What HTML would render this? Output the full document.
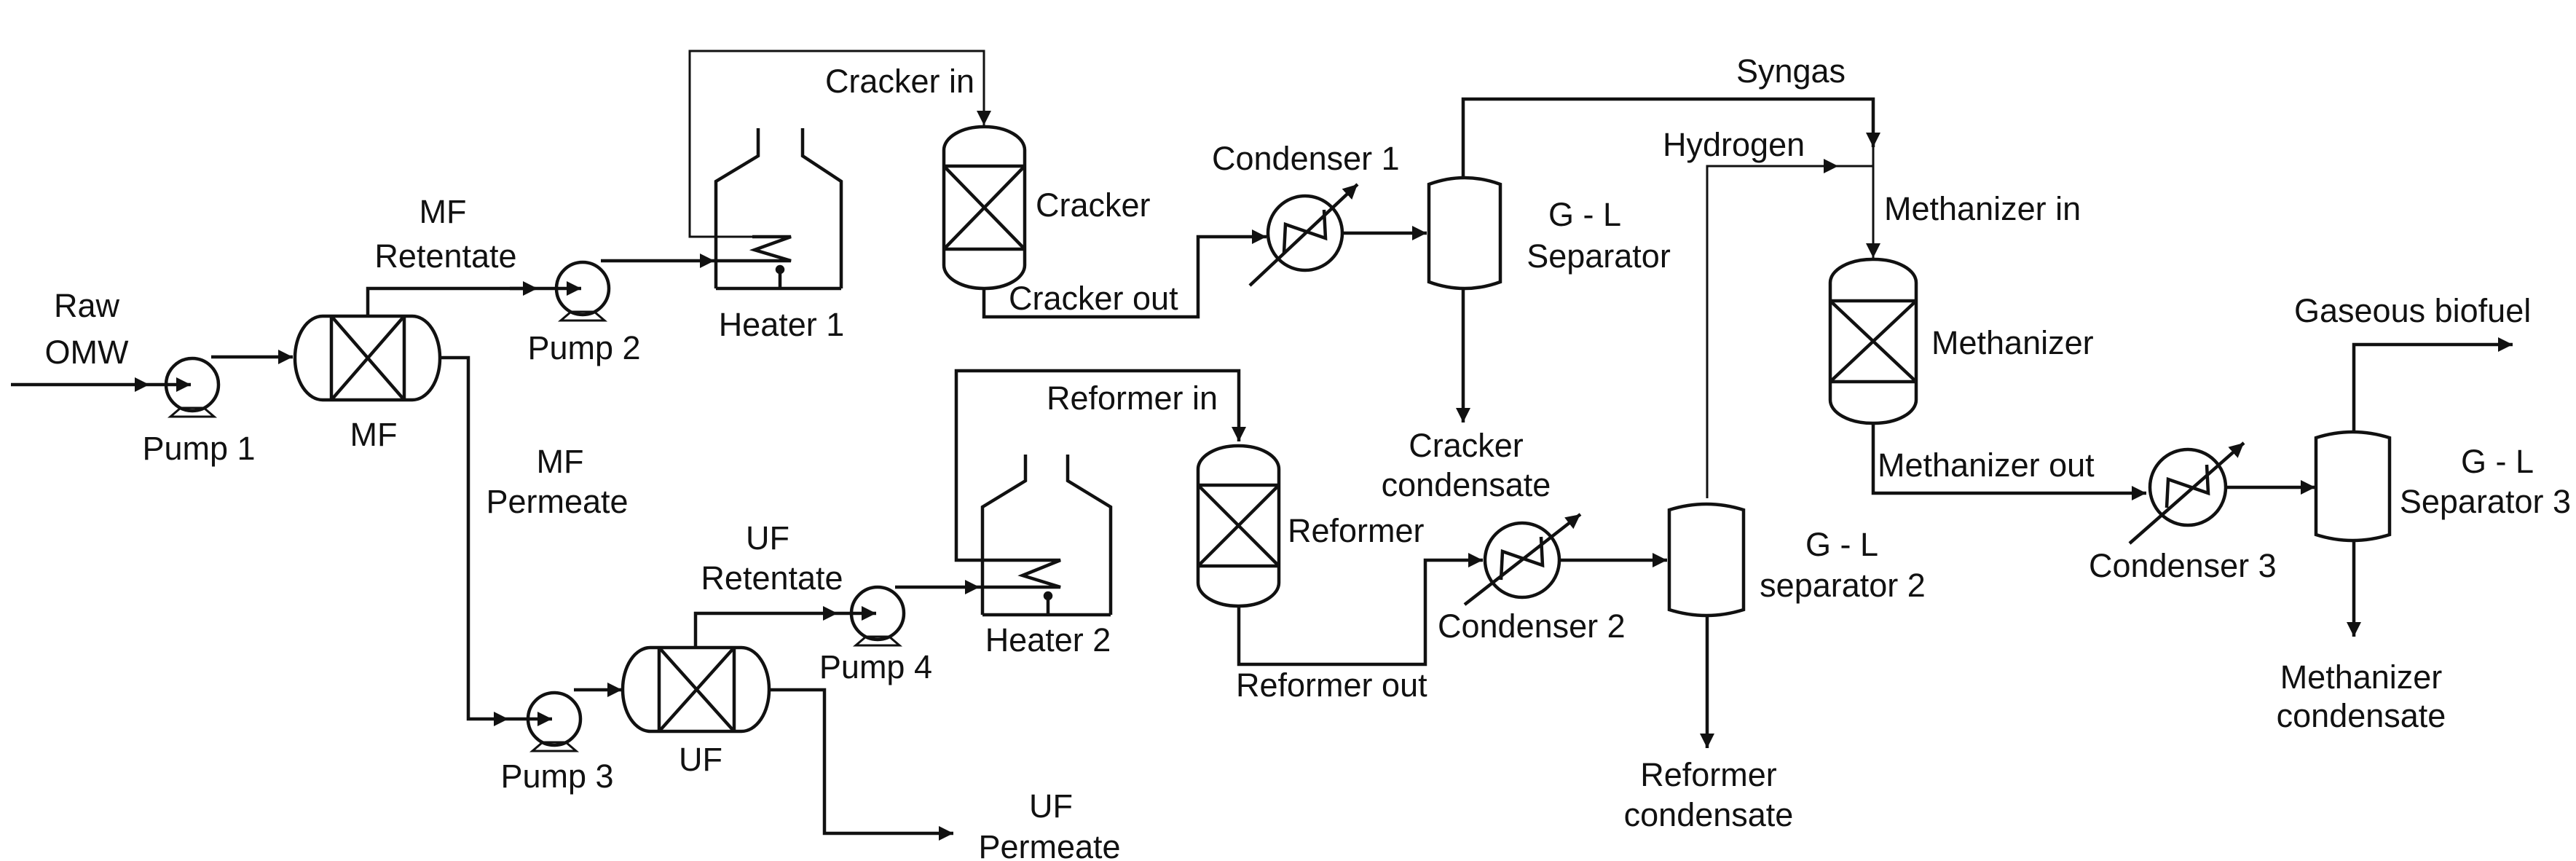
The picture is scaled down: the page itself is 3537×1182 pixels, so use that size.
<!DOCTYPE html>
<html><head><meta charset="utf-8"><style>
html,body{margin:0;padding:0;background:#fff;}
svg{display:block;}
text{font-family:"Liberation Sans",Arial,sans-serif;font-size:45px;fill:#111;}
</style></head><body>
<svg width="3537" height="1182" viewBox="0 0 3537 1182" xmlns="http://www.w3.org/2000/svg">
<defs>
<marker id="a" markerUnits="userSpaceOnUse" markerWidth="24" markerHeight="24" refX="20" refY="12" orient="auto">
<polygon points="0,2 20,12 0,22" fill="#111"/>
</marker>
</defs>
<g fill="none" stroke="#111" stroke-width="4.5">

<line x1="15" y1="528" x2="205" y2="528" marker-end="url(#a)"/>
<line x1="205" y1="528" x2="262" y2="528" marker-end="url(#a)"/>
<circle cx="264" cy="528" r="36"/>
<polygon points="248,560 234,572 294,572 280,560" stroke-width="3"/>
<line x1="290" y1="490" x2="402" y2="490" marker-end="url(#a)"/>
<rect x="405" y="434" width="199" height="115" rx="38" ry="57"/>
<line x1="455" y1="434" x2="455" y2="549"/><line x1="555" y1="434" x2="555" y2="549"/>
<line x1="455" y1="434" x2="555" y2="549"/><line x1="555" y1="434" x2="455" y2="549"/>
<polyline points="505,434 505,396 735,396"/>
<line x1="700" y1="396" x2="738" y2="396" marker-end="url(#a)"/>
<line x1="738" y1="396" x2="798" y2="396" marker-end="url(#a)"/>
<circle cx="800" cy="396" r="36"/>
<polygon points="784,428 770,440 830,440 816,428" stroke-width="3"/>
<line x1="825" y1="358" x2="981" y2="358" marker-end="url(#a)"/>
<polyline points="983,358 1086,358 1036,343 1086,325 1033,325"/>
<polyline points="983,396 983,249 1041,214 1041,176"/>
<polyline points="1155,396 1155,249 1102,214 1102,176"/>
<line x1="983" y1="396" x2="1155" y2="396"/>
<line x1="1071" y1="396" x2="1071" y2="370"/>
<circle cx="1071" cy="370" r="4" fill="#111"/>
<polyline points="1033,325 947,325 947,70 1351,70 1351,172" stroke-width="3" marker-end="url(#a)"/>
<rect x="1296" y="174" width="111" height="222" rx="55" ry="32"/>
<line x1="1296" y1="228" x2="1407" y2="228"/><line x1="1296" y1="342" x2="1407" y2="342"/>
<line x1="1296" y1="228" x2="1407" y2="342"/><line x1="1407" y1="228" x2="1296" y2="342"/>
<polyline points="1351,396 1351,435 1645,435 1645,325 1739,325" marker-end="url(#a)"/>
<circle cx="1792" cy="320" r="51"/>
<polyline points="1763,347 1765,308 1820,327 1818,288"/>
<line x1="1716" y1="392" x2="1864" y2="253" marker-end="url(#a)"/>
<line x1="1844" y1="320" x2="1959" y2="320" marker-end="url(#a)"/>
<path d="M1962,253 Q2011,235 2060,253 L2060,387 Q2011,405 1962,387 Z"/>
<polyline points="2009,244 2009,136 2572,136 2572,202" marker-end="url(#a)"/>
<line x1="2572" y1="200" x2="2572" y2="354" stroke-width="3" marker-end="url(#a)"/>
<line x1="2009" y1="396" x2="2009" y2="580" marker-end="url(#a)"/>
<polyline points="2344,684 2344,228 2524,228" stroke-width="3" marker-end="url(#a)"/>
<line x1="2522" y1="228" x2="2572" y2="228" stroke-width="3"/>
<rect x="2513" y="356" width="118" height="225" rx="58" ry="32"/>
<line x1="2513" y1="413" x2="2631" y2="413"/><line x1="2513" y1="524" x2="2631" y2="524"/>
<line x1="2513" y1="413" x2="2631" y2="524"/><line x1="2631" y1="413" x2="2513" y2="524"/>
<polyline points="2572,581 2572,677 2947,677" marker-end="url(#a)"/>
<circle cx="3004" cy="669" r="52"/>
<polyline points="2975,697 2977,658 3032,677 3030,638"/>
<line x1="2924" y1="746" x2="3081" y2="608" marker-end="url(#a)"/>
<line x1="3056" y1="669" x2="3179" y2="669" marker-end="url(#a)"/>
<path d="M3180,601 Q3230,585 3281,601 L3281,734 Q3230,750 3180,734 Z"/>
<polyline points="3232,593 3232,473 3450,473" marker-end="url(#a)"/>
<line x1="3232" y1="742" x2="3232" y2="874" marker-end="url(#a)"/>

<polyline points="604,491 643,491 643,987 698,987" marker-end="url(#a)"/>
<line x1="698" y1="987" x2="758" y2="987" marker-end="url(#a)"/>
<circle cx="761" cy="987" r="36"/>
<polygon points="745,1019 731,1031 791,1031 777,1019" stroke-width="3"/>
<line x1="788" y1="947" x2="854" y2="947" marker-end="url(#a)"/>
<rect x="855" y="889" width="201" height="115" rx="38" ry="57"/>
<line x1="905" y1="889" x2="905" y2="1004"/><line x1="1008" y1="889" x2="1008" y2="1004"/>
<line x1="905" y1="889" x2="1008" y2="1004"/><line x1="1008" y1="889" x2="905" y2="1004"/>
<polyline points="955,889 955,842 1150,842" marker-end="url(#a)"/>
<line x1="1150" y1="842" x2="1203" y2="842" marker-end="url(#a)"/>
<circle cx="1205" cy="842" r="36"/>
<polygon points="1189,874 1175,886 1235,886 1221,874" stroke-width="3"/>
<line x1="1229" y1="806" x2="1345" y2="806" marker-end="url(#a)"/>
<polyline points="1056,947 1132,947 1132,1144 1309,1144" marker-end="url(#a)"/>
<polyline points="1345,806 1456,806 1404,790 1456,769 1400,769"/>
<polyline points="1349,844 1349,696 1408,660 1408,624"/>
<polyline points="1525,844 1525,696 1466,660 1466,624"/>
<line x1="1349" y1="844" x2="1525" y2="844"/>
<line x1="1439" y1="844" x2="1439" y2="818"/>
<circle cx="1439" cy="818" r="4" fill="#111"/>
<polyline points="1400,769 1313,769 1313,509 1701,509 1701,606" marker-end="url(#a)"/>
<rect x="1645" y="612" width="111" height="220" rx="55" ry="32"/>
<line x1="1645" y1="666" x2="1756" y2="666"/><line x1="1645" y1="777" x2="1756" y2="777"/>
<line x1="1645" y1="666" x2="1756" y2="777"/><line x1="1756" y1="666" x2="1645" y2="777"/>
<polyline points="1701,832 1701,912 1957,912 1957,769 2036,769" marker-end="url(#a)"/>
<circle cx="2090" cy="769" r="51"/>
<polyline points="2061,796 2063,757 2118,776 2116,737"/>
<line x1="2011" y1="830" x2="2170" y2="706" marker-end="url(#a)"/>
<line x1="2141" y1="769" x2="2289" y2="769" marker-end="url(#a)"/>
<path d="M2292,700 Q2343,684 2394,700 L2394,837 Q2343,853 2292,837 Z"/>
<line x1="2344" y1="845" x2="2344" y2="1027" marker-end="url(#a)"/>
</g>

<g>
<text x="119" y="435" text-anchor="middle">Raw</text>
<text x="119" y="499" text-anchor="middle">OMW</text>
<text x="273" y="631" text-anchor="middle">Pump 1</text>
<text x="513" y="612" text-anchor="middle">MF</text>
<text x="608" y="306" text-anchor="middle">MF</text>
<text x="612" y="367" text-anchor="middle">Retentate</text>
<text x="802" y="493" text-anchor="middle">Pump 2</text>
<text x="1073" y="461" text-anchor="middle">Heater 1</text>
<text x="769" y="649" text-anchor="middle">MF</text>
<text x="765" y="704" text-anchor="middle">Permeate</text>
<text x="1054" y="754" text-anchor="middle">UF</text>
<text x="1060" y="809" text-anchor="middle">Retentate</text>
<text x="765" y="1081" text-anchor="middle">Pump 3</text>
<text x="962" y="1058" text-anchor="middle">UF</text>
<text x="1280" y="931" text-anchor="end">Pump 4</text>
<text x="1439" y="894" text-anchor="middle">Heater 2</text>
<text x="1443" y="1122" text-anchor="middle">UF</text>
<text x="1441" y="1178" text-anchor="middle">Permeate</text>
<text x="1338" y="127" text-anchor="end">Cracker in</text>
<text x="1422" y="297">Cracker</text>
<text x="1385" y="425">Cracker out</text>
<text x="1664" y="233">Condenser 1</text>
<text x="2176" y="310" text-anchor="middle">G - L</text>
<text x="2195" y="367" text-anchor="middle">Separator</text>
<text x="1437" y="562">Reformer in</text>
<text x="1768" y="744">Reformer</text>
<text x="1697" y="956">Reformer out</text>
<text x="2013" y="627" text-anchor="middle">Cracker</text>
<text x="2013" y="681" text-anchor="middle">condensate</text>
<text x="1974" y="875">Condenser 2</text>
<text x="2346" y="1079" text-anchor="middle">Reformer</text>
<text x="2346" y="1134" text-anchor="middle">condensate</text>
<text x="2459" y="113" text-anchor="middle">Syngas</text>
<text x="2283" y="214">Hydrogen</text>
<text x="2587" y="302">Methanizer in</text>
<text x="2652" y="486">Methanizer</text>
<text x="2578" y="654">Methanizer out</text>
<text x="2529" y="763" text-anchor="middle">G - L</text>
<text x="2530" y="819" text-anchor="middle">separator 2</text>
<text x="2868" y="792">Condenser 3</text>
<text x="3150" y="442">Gaseous biofuel</text>
<text x="3429" y="649" text-anchor="middle">G - L</text>
<text x="3530" y="704" text-anchor="end">Separator 3</text>
<text x="3242" y="945" text-anchor="middle">Methanizer</text>
<text x="3242" y="998" text-anchor="middle">condensate</text>
</g>
</svg>
</body></html>
